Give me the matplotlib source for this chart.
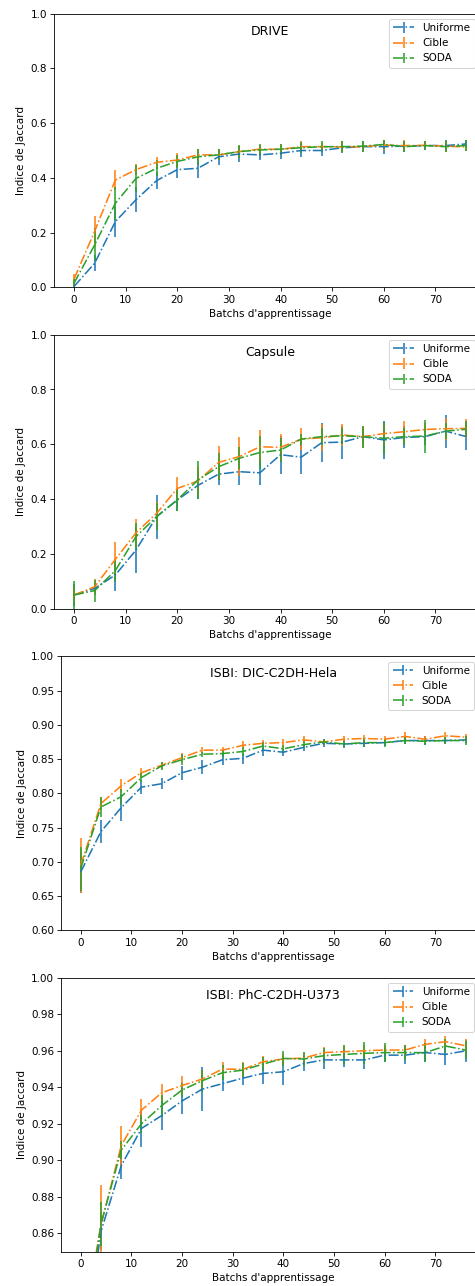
import numpy as np
import matplotlib
matplotlib.use("Agg")
import matplotlib.pyplot as plt

batches = np.arange(0, 80, 4)
methodes = ["Uniforme", "Cible", "SODA"]

# DRIVE
drive_uni = [0.003, 0.088, 0.24, 0.32, 0.39, 0.43, 0.435, 0.477, 0.487, 0.484,
             0.49, 0.50, 0.50, 0.51, 0.514, 0.514, 0.516, 0.518, 0.518, 0.524]
drive_uni_err = [0.005, 0.03, 0.055, 0.045, 0.03, 0.03, 0.035, 0.03, 0.03, 0.02,
                 0.02, 0.025, 0.02, 0.02, 0.02, 0.025, 0.02, 0.015, 0.02, 0.015]
drive_cib = [0.03, 0.205, 0.392, 0.43, 0.457, 0.465, 0.484, 0.484, 0.496, 0.505,
             0.504, 0.514, 0.514, 0.513, 0.514, 0.52, 0.518, 0.519, 0.516, 0.513]
drive_cib_err = [0.02, 0.055, 0.035, 0.02, 0.02, 0.025, 0.02, 0.02, 0.02, 0.015,
                 0.02, 0.02, 0.015, 0.02, 0.015, 0.02, 0.02, 0.015, 0.02, 0.015]
drive_soda = [0.015, 0.155, 0.307, 0.398, 0.435, 0.46, 0.477, 0.484, 0.496, 0.502,
              0.505, 0.51, 0.514, 0.514, 0.516, 0.522, 0.514, 0.518, 0.514, 0.518]
drive_soda_err = [0.015, 0.06, 0.06, 0.05, 0.03, 0.025, 0.03, 0.02, 0.025, 0.02,
                  0.02, 0.02, 0.02, 0.02, 0.02, 0.015, 0.02, 0.015, 0.02, 0.02]

# Capsule
caps_uni = [0.05, 0.074, 0.123, 0.214, 0.336, 0.397, 0.45, 0.491, 0.50, 0.496,
            0.562, 0.553, 0.606, 0.608, 0.628, 0.616, 0.625, 0.628, 0.648, 0.628]
caps_uni_err = [0.04, 0.02, 0.057, 0.085, 0.08, 0.04, 0.05, 0.04, 0.05, 0.045,
                0.07, 0.06, 0.07, 0.06, 0.03, 0.07, 0.04, 0.03, 0.06, 0.05]
caps_cib = [0.05, 0.08, 0.18, 0.277, 0.348, 0.439, 0.466, 0.534, 0.555, 0.591,
            0.589, 0.619, 0.624, 0.634, 0.628, 0.639, 0.646, 0.654, 0.657, 0.658]
caps_cib_err = [0.03, 0.03, 0.065, 0.05, 0.04, 0.04, 0.05, 0.06, 0.07, 0.06,
                0.05, 0.04, 0.05, 0.04, 0.04, 0.04, 0.04, 0.025, 0.04, 0.035]
caps_soda = [0.05, 0.066, 0.139, 0.263, 0.336, 0.397, 0.47, 0.518, 0.549, 0.57,
             0.579, 0.619, 0.628, 0.631, 0.628, 0.622, 0.628, 0.63, 0.648, 0.655]
caps_soda_err = [0.05, 0.04, 0.04, 0.05, 0.05, 0.04, 0.07, 0.05, 0.04, 0.06,
                 0.045, 0.02, 0.03, 0.03, 0.04, 0.06, 0.03, 0.06, 0.03, 0.03]

# ISBI: DIC-C2DH-Hela
hela_uni = [0.685, 0.744, 0.779, 0.809, 0.814, 0.83, 0.838, 0.849, 0.851, 0.863,
            0.86, 0.867, 0.873, 0.872, 0.873, 0.874, 0.877, 0.877, 0.877, 0.878]
hela_uni_err = [0.03, 0.017, 0.02, 0.01, 0.008, 0.01, 0.01, 0.008, 0.008, 0.008,
                0.005, 0.005, 0.006, 0.006, 0.005, 0.005, 0.005, 0.006, 0.005, 0.005]
hela_cib = [0.695, 0.785, 0.811, 0.83, 0.841, 0.852, 0.863, 0.863, 0.87, 0.873,
            0.874, 0.878, 0.875, 0.879, 0.88, 0.879, 0.883, 0.879, 0.884, 0.882]
hela_cib_err = [0.04, 0.01, 0.01, 0.007, 0.005, 0.007, 0.005, 0.005, 0.006, 0.005,
                0.006, 0.005, 0.005, 0.005, 0.005, 0.005, 0.006, 0.005, 0.005, 0.005]
hela_soda = [0.69, 0.78, 0.795, 0.823, 0.84, 0.849, 0.857, 0.858, 0.861, 0.869,
             0.865, 0.871, 0.875, 0.872, 0.874, 0.874, 0.877, 0.876, 0.877, 0.877]
hela_soda_err = [0.032, 0.015, 0.012, 0.007, 0.006, 0.008, 0.004, 0.005, 0.006, 0.006,
                 0.005, 0.005, 0.005, 0.005, 0.007, 0.006, 0.005, 0.005, 0.005, 0.006]

# ISBI: PhC-C2DH-U373
u373_uni = [0.78, 0.861, 0.897, 0.9175, 0.9245, 0.9325, 0.939, 0.942, 0.945, 0.9476,
            0.9485, 0.953, 0.955, 0.955, 0.955, 0.9576, 0.9576, 0.959, 0.958, 0.96]
u373_uni_err = [0.02, 0.01, 0.007, 0.01, 0.008, 0.007, 0.012, 0.004, 0.004, 0.006,
                0.007, 0.004, 0.005, 0.004, 0.005, 0.004, 0.005, 0.005, 0.006, 0.006]
u373_cib = [0.80, 0.8646, 0.908, 0.9275, 0.937, 0.941, 0.9445, 0.95, 0.9498, 0.954,
            0.9555, 0.956, 0.959, 0.9595, 0.96, 0.9604, 0.9604, 0.9635, 0.965, 0.9627]
u373_cib_err = [0.02, 0.022, 0.011, 0.006, 0.005, 0.005, 0.005, 0.004, 0.004, 0.003,
                0.003, 0.003, 0.003, 0.003, 0.003, 0.003, 0.003, 0.003, 0.003, 0.004]
u373_soda = [0.79, 0.865, 0.9056, 0.92, 0.93, 0.9385, 0.9436, 0.948, 0.9494, 0.9527,
             0.9558, 0.9555, 0.9573, 0.958, 0.9586, 0.959, 0.959, 0.959, 0.9626, 0.9604]
u373_soda_err = [0.02, 0.012, 0.005, 0.005, 0.006, 0.004, 0.006, 0.004, 0.004, 0.004,
                 0.004, 0.004, 0.004, 0.005, 0.006, 0.005, 0.004, 0.005, 0.004, 0.005]

panneaux = [
    ("DRIVE", (0.0, 1.0), None,
     [(drive_uni, drive_uni_err), (drive_cib, drive_cib_err), (drive_soda, drive_soda_err)]),
    ("Capsule", (0.0, 1.0), None,
     [(caps_uni, caps_uni_err), (caps_cib, caps_cib_err), (caps_soda, caps_soda_err)]),
    ("ISBI: DIC-C2DH-Hela", (0.6, 1.0), np.arange(0.60, 1.001, 0.05),
     [(hela_uni, hela_uni_err), (hela_cib, hela_cib_err), (hela_soda, hela_soda_err)]),
    ("ISBI: PhC-C2DH-U373", (0.85, 1.0), np.arange(0.86, 1.001, 0.02),
     [(u373_uni, u373_uni_err), (u373_cib, u373_cib_err), (u373_soda, u373_soda_err)]),
]

W, H = 475, 1286
dpi = 75
fig = plt.figure(figsize=(W / dpi, H / dpi), dpi=dpi)

# position des axes en pixels : (gauche, droite, haut, bas)
cadres = [(54.4, 486, 13.7, 287.3),
          (54.4, 486, 334.7, 608.7),
          (61.4, 485, 656.3, 930.3),
          (61.4, 485, 977.7, 1251.7)]

for (titre, ylim, yticks, series), (g, d, h, b) in zip(panneaux, cadres):
    ax = fig.add_axes([g / W, (H - b) / H, (d - g) / W, (b - h) / H])
    for nom, (moy, err) in zip(methodes, series):
        ax.errorbar(batches, moy, yerr=err, linestyle='-.', label=nom)
    ax.set_ylim(*ylim)
    if yticks is not None:
        ax.set_yticks(yticks)
        ax.yaxis.set_major_formatter(matplotlib.ticker.FormatStrFormatter('%.2f'))
    ax.set_title(titre, y=0.9)
    ax.set_xlabel("Batchs d'apprentissage")
    ax.set_ylabel("Indice de Jaccard")
    ax.legend(loc='upper right', bbox_to_anchor=(0.986, 1.0))

fig.savefig("out.png", dpi=dpi)
